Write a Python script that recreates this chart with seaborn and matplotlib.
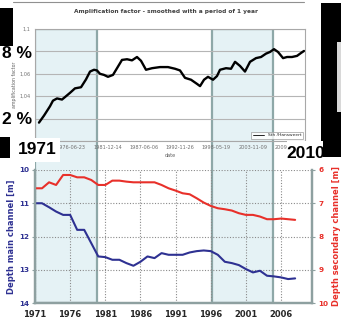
import numpy as np
import pandas as pd
import matplotlib
matplotlib.use("Agg")
import matplotlib.pyplot as plt
import seaborn as sns
from matplotlib.patches import Rectangle

# ---------------- data ----------------
amp_year = [1971.6, 1972.36, 1973.26, 1973.71, 1974.32, 1975.07, 1975.68, 1976.28, 1977.03, 1977.94,
            1978.69, 1979.30, 1979.90, 1980.35, 1980.80, 1981.41, 1982.01, 1982.76, 1983.37, 1984.12,
            1984.88, 1985.63, 1986.38, 1986.99, 1987.74, 1988.65, 1989.85, 1991.06, 1992.12, 1992.87,
            1993.62, 1994.53, 1995.43, 1995.89, 1996.49, 1997.09, 1997.85, 1998.45, 1998.90, 1999.81,
            2000.56, 2001.17, 2001.92, 2002.67, 2003.43, 2004.33, 2005.09, 2005.84, 2006.44, 2007.05,
            2007.65, 2008.41, 2009.01, 2009.76, 2010.52, 2011.12, 2011.57]
amp_value = [1.0164, 1.0227, 1.031, 1.036, 1.038, 1.037, 1.040, 1.043, 1.047, 1.048,
             1.055, 1.062, 1.0636, 1.063, 1.060, 1.059, 1.0573, 1.059, 1.065, 1.0724,
             1.073, 1.072, 1.075, 1.0716, 1.0636, 1.065, 1.066, 1.066, 1.0645, 1.063,
             1.0564, 1.0547, 1.051, 1.049, 1.0547, 1.0573, 1.0547, 1.058, 1.0636, 1.065,
             1.0645, 1.0707, 1.067, 1.062, 1.0707, 1.074, 1.075, 1.078, 1.0795, 1.082,
             1.0795, 1.074, 1.075, 1.075, 1.076, 1.0786, 1.0804]

depth_year = list(range(1971, 2009))
main_depth = [11.0, 11.0, 11.12, 11.25, 11.35, 11.35, 11.8, 11.8, 12.2, 12.6,
              12.62, 12.7, 12.7, 12.8, 12.88, 12.76, 12.6, 12.65, 12.5, 12.55,
              12.55, 12.55, 12.48, 12.44, 12.42, 12.44, 12.55, 12.76, 12.8, 12.86,
              12.98, 13.08, 13.03, 13.18, 13.2, 13.23, 13.28, 13.26]
secondary_depth = [6.55, 6.55, 6.37, 6.45, 6.15, 6.15, 6.22, 6.22, 6.3, 6.45,
                   6.45, 6.32, 6.32, 6.35, 6.37, 6.37, 6.37, 6.37, 6.45, 6.55,
                   6.62, 6.7, 6.73, 6.85, 6.98, 7.08, 7.15, 7.18, 7.22, 7.3,
                   7.35, 7.35, 7.4, 7.48, 7.48, 7.46, 7.48, 7.5]

span_start = [1971.0, 1996.2]
span_end = [1979.8, 2004.9]

top_tick_dates = ["1971-01-01", "1976-06-23", "1981-12-14", "1987-06-06",
                  "1992-11-26", "1998-05-19", "2003-11-09", "2009-05-01"]
# labels hidden behind the annotation boxes in the reference are left blank
top_xtick_labels = ["", "1976-06-23", "1981-12-14", "1987-06-06",
                    "1992-11-26", "1998-05-19", "2003-11-09", "2009-05-01"]
top_ytick_values = [1.0, 1.02, 1.04, 1.06, 1.08, 1.1]
top_ytick_labels = ["", "", "1,04", "1,06", "", "1,1"]
bottom_xticks = [1971, 1976, 1981, 1986, 1991, 1996, 2001, 2006]
main_ticks = [10, 11, 12, 13, 14]
secondary_ticks = [6, 7, 8, 9, 10]

# ---------------- figure ----------------
sns.set_style("white")
plt.rcParams['font.family'] = ['DejaVu Sans']
W, H = 341, 318
fig = plt.figure(figsize=(W / 100, H / 100), dpi=100)
fig.patch.set_facecolor("white")

def box(x0, y0, x1, y1):
    return [x0 / W, 1 - y1 / H, (x1 - x0) / W, (y1 - y0) / H]

BLUE = "#2E3192"
RED = "#E8302A"

# background overlay with shaded periods
ax_bg = fig.add_axes(box(35, 29, 312, 303), zorder=0)
ax_bg.set_xlim(1971, 2010.4)
ax_bg.set_ylim(0, 1)
ax_bg.axis("off")
for s, e in zip(span_start, span_end):
    ax_bg.axvspan(s, e, facecolor="#E5F2F5", edgecolor="#8EA8A8", linewidth=1.6)

# top chart: amplification factor
ax_t = fig.add_axes(box(35, 29, 305, 141), zorder=1)
ax_t.patch.set_visible(False)
sns.lineplot(x=amp_year, y=amp_value, ax=ax_t, color="black", linewidth=1.7,
             label="Sth /Hansweert")
ax_t.set_xlim(1971, 2011.72)
ax_t.set_ylim(1.0, 1.1)
ax_t.set_yticks(top_ytick_values)
ax_t.set_yticklabels(top_ytick_labels)
tdates = pd.to_datetime(top_tick_dates)
tpos = tdates.year + (tdates.dayofyear - 1) / 365.25
ax_t.set_xticks(tpos)
ax_t.set_xticklabels(top_xtick_labels)
ax_t.tick_params(axis="both", labelsize=3.6, colors="#707070", length=0, pad=3)
ax_t.grid(axis="y", color="#B5B5B5", linewidth=0.8)
ax_t.grid(axis="x", visible=False)
for sp in ax_t.spines.values():
    sp.set_color("#A8A8A8")
    sp.set_linewidth(0.8)
ax_t.set_xlabel("date", fontsize=3.6, color="#606060", labelpad=2)
ax_t.set_ylabel("amplification factor", fontsize=3.4, color="#606060", labelpad=2)
leg = ax_t.legend(loc="lower right", fontsize=3.2, frameon=True, fancybox=False,
                  handlelength=2.5, borderpad=0.35, borderaxespad=0.5)
leg.get_frame().set_edgecolor("#999999")
leg.get_frame().set_linewidth(0.6)
for l in leg.get_lines():
    l.set_linewidth(0.6)
fig.text(166 / W, 1 - 12 / H, "Amplification factor - smoothed with a period of 1 year",
         ha="center", va="center", fontsize=4.2, color="#404040", fontweight="bold")

# bottom chart: depths
ax_b = fig.add_axes(box(35, 170, 312, 303), zorder=2)
ax_b.patch.set_visible(False)
sns.lineplot(x=depth_year, y=main_depth, ax=ax_b, color=BLUE, linewidth=1.5)
ax_b.set_xlim(1971, 2010.4)
ax_b.set_ylim(14, 10)
ax_b.set_xticks(bottom_xticks)
ax_b.set_yticks(main_ticks)
ax_b.grid(True, color="#8A8A8A", linewidth=0.8, linestyle=(0, (1, 1.5)))
ax_b.tick_params(axis="y", labelsize=5.2, colors=BLUE, length=2.5, width=0.8,
                 color="#8EA0A0", pad=2, left=True)
ax_b.tick_params(axis="x", labelsize=6, length=0, pad=5, bottom=True)
for lab in ax_b.get_yticklabels() + ax_b.get_xticklabels():
    lab.set_fontweight("bold")
ax_b.set_ylabel("Depth main channel [m]", color=BLUE, fontsize=6, fontweight="bold", labelpad=2)
ax_b.set_xlabel("")
ax_b.spines["top"].set_visible(False)
for k in ["left", "bottom", "right"]:
    ax_b.spines[k].set_color("#8EA0A0")
    ax_b.spines[k].set_linewidth(1.6)

ax_r = ax_b.twinx()
ax_r.patch.set_visible(False)
sns.lineplot(x=depth_year, y=secondary_depth, ax=ax_r, color=RED, linewidth=1.5)
ax_r.set_ylim(10, 6)
ax_r.set_yticks(secondary_ticks)
ax_r.tick_params(axis="y", labelsize=5.2, colors=RED, length=2.5, width=0.8,
                 color="#8EA0A0", pad=2, right=True)
for lab in ax_r.get_yticklabels():
    lab.set_fontweight("bold")
ax_r.set_ylabel("Depth secondary channel [m]", color=RED, fontsize=6, fontweight="bold", labelpad=3)
ax_r.spines["top"].set_visible(False)
for k in ["left", "bottom", "right"]:
    ax_r.spines[k].set_color("#8EA0A0")
    ax_r.spines[k].set_linewidth(1.6)
ax_r.grid(False)

# ---------------- overlay decorations ----------------
def rect(x0, y0, x1, y1, color):
    fig.add_artist(Rectangle((x0 / W, 1 - y1 / H), (x1 - x0) / W, (y1 - y0) / H,
                             transform=fig.transFigure, facecolor=color,
                             edgecolor="none", zorder=10))

rect(0, 8, 13, 47, "black")
rect(0, 137, 10, 158, "black")
rect(321, 3, 341, 157, "black")
rect(337, 42, 341, 112, "#D8D8D8")
rect(15, 138, 60, 162, "white")
rect(287, 141, 323, 164, "white")
rect(0, 46, 32, 62, "white")
rect(0, 112, 32, 129, "white")

fig.add_artist(plt.Line2D([13 / W, 304 / W], [1 - 2 / H, 1 - 2 / H], transform=fig.transFigure,
                          color="#909090", linewidth=0.8, zorder=11))

big = dict(fontsize=12.5, fontweight="bold", family=["Liberation Sans", "DejaVu Sans"],
           color="black", zorder=12, va="center")
fig.text(37 / W, 1 - 150 / H, "1971", ha="center", **big)
fig.text(306 / W, 1 - 153 / H, "2010", ha="center", **big)
fig.text(2 / W, 1 - 54 / H, "8 %", ha="left", **big)
fig.text(2 / W, 1 - 120 / H, "2 %", ha="left", **big)

fig.savefig("out.png", dpi=100)
